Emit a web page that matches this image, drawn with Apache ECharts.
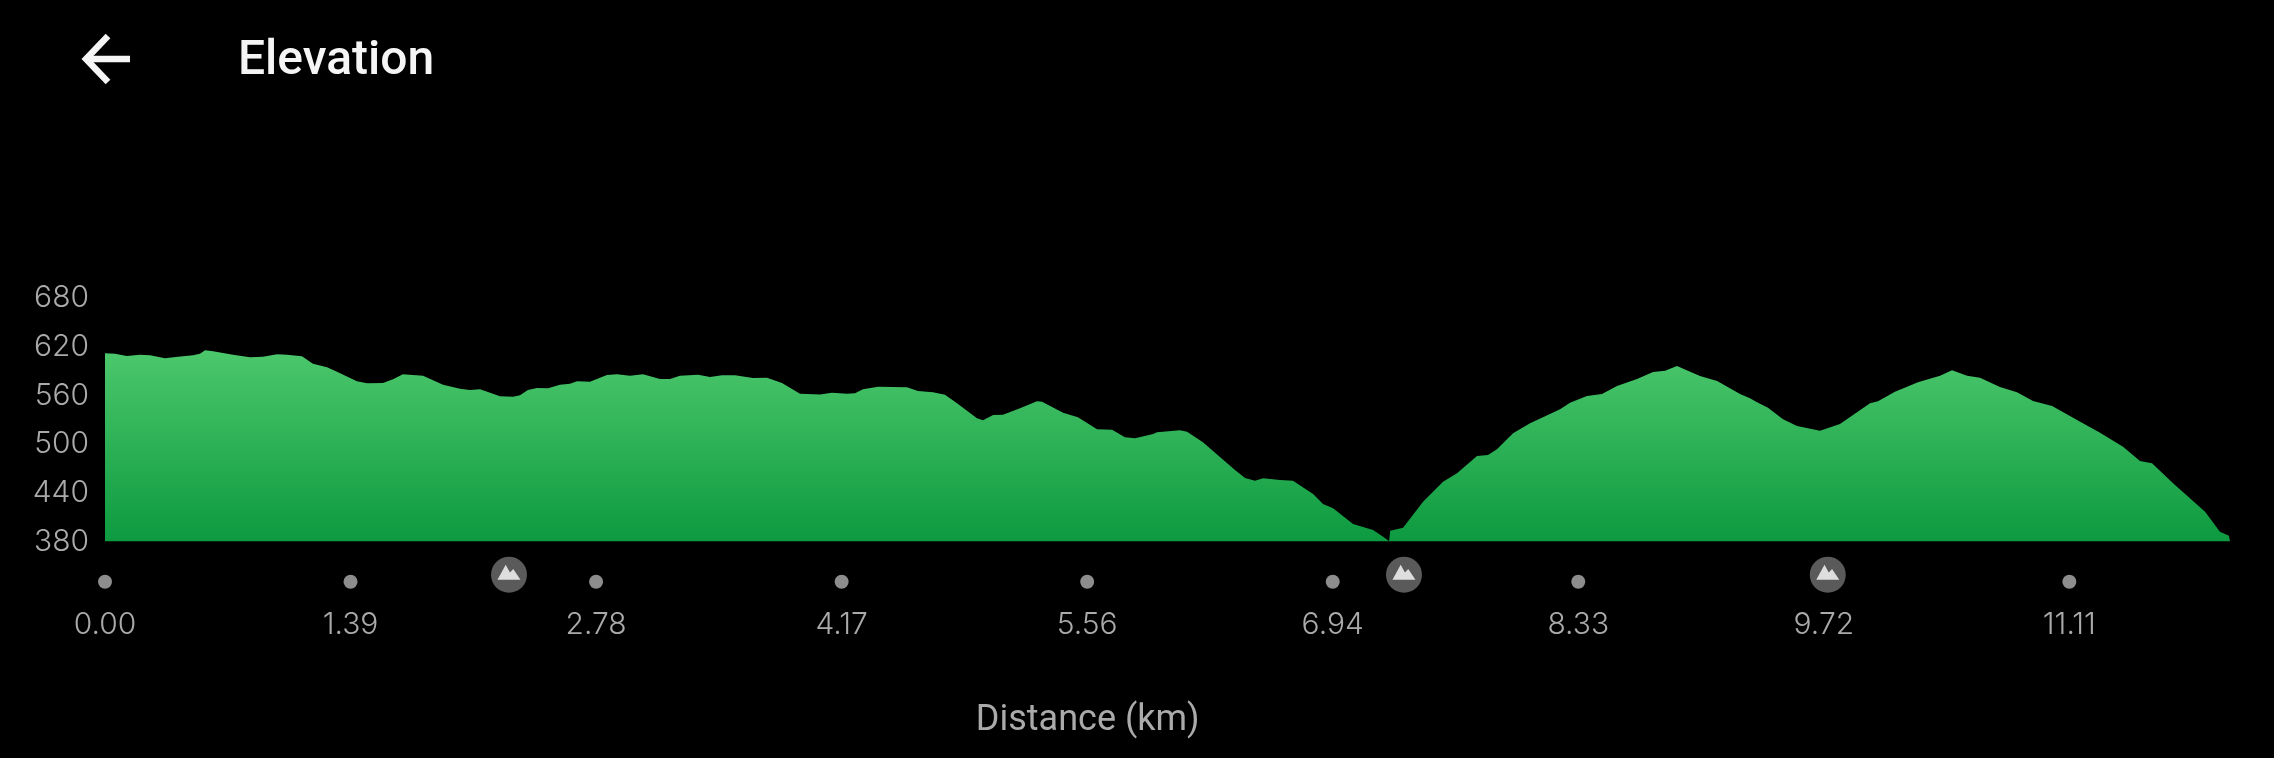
<!DOCTYPE html>
<html>
<head>
<meta charset="utf-8">
<style>html,body{margin:0;padding:0;background:#000}#c{width:2274px;height:758px}</style>
<script src="https://cdn.jsdelivr.net/npm/echarts@6/dist/echarts.min.js"></script>
</head>
<body>
<div id="c"></div>
<script>
const distanceKm = [0,.057,.123,.198,.255,.339,.413,.498,.537,.566,.611,.724,.82,.894,.973,1.029,1.114,1.176,1.256,1.312,1.425,1.482,1.572,1.629,1.685,1.799,1.912,2.008,2.064,2.121,2.166,2.234,2.308,2.347,2.392,2.443,2.506,2.573,2.63,2.67,2.743,2.839,2.896,2.969,3.043,3.139,3.196,3.252,3.354,3.422,3.49,3.563,3.665,3.744,3.829,3.931,4.044,4.112,4.197,4.242,4.287,4.372,4.536,4.598,4.683,4.751,4.819,4.932,4.966,5.023,5.079,5.175,5.271,5.3,5.419,5.503,5.611,5.696,5.769,5.826,5.928,5.95,6.08,6.12,6.21,6.391,6.448,6.504,6.55,6.646,6.719,6.833,6.889,6.946,7.059,7.172,7.229,7.263,7.269,7.342,7.455,7.568,7.647,7.76,7.822,7.873,7.964,8.06,8.23,8.286,8.382,8.467,8.552,8.665,8.756,8.824,8.891,9.021,9.118,9.248,9.304,9.344,9.406,9.491,9.57,9.7,9.813,9.983,10.028,10.124,10.254,10.379,10.447,10.532,10.605,10.718,10.814,10.905,11.013,11.154,11.284,11.414,11.51,11.578,11.697,11.878,11.962,12.013,12.019];
const elevationM = [612.1,611.7,608.8,610.4,609.7,606,608,609.7,611.7,615.8,614.6,610.4,607.2,608,610.9,610.4,608.4,599.3,594.9,589.5,577.6,575.1,575.5,580.1,586.2,584.5,573.4,568.5,566.9,567.7,564.4,559.1,558.6,560.3,566.9,569.3,569,573.4,574.6,577.6,577.1,585.4,586.2,584.5,586.2,580.4,580.4,584.5,585.7,582.9,585,585,581.7,582,575.5,562.3,561.3,563.5,562.3,562.8,567.7,570.9,570.2,565.6,564,561.1,550.5,532,529.5,536,536.4,544.3,552.9,552.4,538.9,533.2,518.4,517.9,508.5,507.3,512.6,514.7,517.3,515.4,502.4,468.2,458.3,455,458,455.9,455,438.6,426.3,421,401.6,394.2,385.9,380.3,393.3,397,429.1,453.8,464.1,485.5,486.7,493.7,513.5,525.8,543.1,551.2,559.5,561.9,571.8,580.4,589.1,590.7,596.5,584.1,578,561.9,556.6,551.7,545,530.7,522.5,516.7,524.9,550.5,552.9,564.8,576.4,584.5,591.2,584.5,582,570.6,564,553.3,547.1,529.9,514.2,496.9,479.3,476.5,451.8,416.8,392.1,387.2,385.6];
const tickKm = [0,1.3888,2.7776,4.1664,5.5552,6.944,8.3328,9.7216,11.1104];
const peakKm = [2.285,7.347,9.744];
const elevationTicks = [380,440,500,560,620,680];
const titleText = 'Elevation';
const xAxisTitle = 'Distance (km)';
const dotLevel = 330.4;
const peakLevel = 339;

const chart = echarts.init(document.getElementById('c'), null, {renderer:'canvas', width:2274, height:758});
const FONT = 'Roboto';
const NUMFONT = 'Inter';
const GREY = '#aaaaaa';
chart.setOption({
  animation:false,
  backgroundColor:'#000',
  title:[
    {text:titleText,left:238,top:38,padding:0,textStyle:{color:'#f5f5f5',fontFamily:FONT,fontWeight:500,fontSize:48}},
    {text:xAxisTitle,left:1087.7,top:703,padding:0,textAlign:'center',textStyle:{color:GREY,fontFamily:FONT,fontWeight:400,fontSize:36}}
  ],
  grid:{left:105,right:44,top:298.3,bottom:216.5},
  xAxis:{type:'value',min:0,max:12.019,interval:1.3888,
    axisLine:{show:false},axisTick:{show:false},splitLine:{show:false},
    axisLabel:{showMaxLabel:false,margin:68,color:GREY,fontFamily:NUMFONT,fontWeight:300,fontSize:30,formatter:v=>v.toFixed(2)}},
  yAxis:{type:'value',min:elevationTicks[0],max:elevationTicks[elevationTicks.length-1],interval:60,
    axisLine:{show:false},axisTick:{show:false},splitLine:{show:false},
    axisLabel:{margin:16,color:GREY,fontFamily:NUMFONT,fontWeight:300,fontSize:30}},
  graphic:[{type:'polyline',silent:true,shape:{points:[[108,36],[86,59],[108,82]]},style:{stroke:'#f5f5f5',lineWidth:6.5,fill:null}},
           {type:'line',silent:true,shape:{x1:86,y1:59,x2:130,y2:59},style:{stroke:'#f5f5f5',lineWidth:6.5}}],
  series:[
    {type:'line',data:distanceKm.map((d,i)=>[d,elevationM[i]]),showSymbol:false,symbol:'none',smooth:false,
     lineStyle:{width:0},
     areaStyle:{opacity:1,color:new echarts.graphic.LinearGradient(0,0,0,1,[{offset:0,color:'#4cc76c'},{offset:1,color:'#0d9a40'}])},
     silent:true},
    {type:'scatter',data:tickKm.filter(t=>!peakKm.some(p=>Math.abs(p-t)<0.1)).map(t=>[t,dotLevel]),symbol:'circle',symbolSize:14,clip:false,
     itemStyle:{color:'#b0b0b0'},silent:true},
    {type:'scatter',data:peakKm.map(p=>[p,peakLevel]),symbol:'circle',symbolSize:36,clip:false,z:3,
     itemStyle:{color:'#707070'},silent:true},
    {type:'scatter',data:peakKm.map(p=>[p,peakLevel]),symbol:'path://M0 45 L25 0 L38 23 L48 13 L70 45 Z',symbolSize:[23,15],symbolOffset:[0,-2.5],symbolKeepAspect:false,clip:false,z:4,
     itemStyle:{color:'#fff'},silent:true}
  ]
});
</script>
</body>
</html>
